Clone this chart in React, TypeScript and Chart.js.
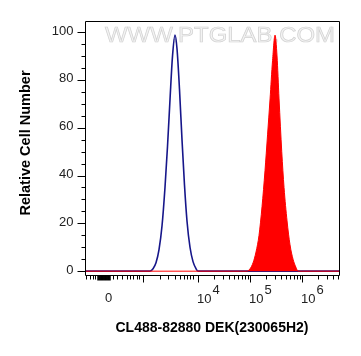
import React, { useEffect, useRef } from 'react';
import { Chart, registerables } from 'chart.js';

Chart.register(...registerables);

// x axis is in "display decades" (biexponential display units): 10^4 -> 4, 10^5 -> 5 ...
const X_MIN = 1.827;
const X_MAX = 6.73;
const Y_MIN = -1.6;
const Y_MAX = 104.6;

// Control (blue outline)
const blueX = [1.83, 3.0, 3.077, 3.135, 3.192, 3.25, 3.308, 3.365, 3.413, 3.462, 3.51, 3.558, 3.596, 3.644, 3.692, 3.74, 3.788, 3.846, 3.904, 3.962, 4.0, 4.1, 6.73];
const blueY = [0, 0, 0, 1, 3.5, 9, 19, 35, 52, 72, 90, 98.7, 93, 76, 55, 36, 21, 10, 4, 1, 0, 0, 0];

// Stained sample (red filled)
const redX = [1.83, 4.8, 4.937, 5.0, 5.058, 5.115, 5.173, 5.231, 5.288, 5.337, 5.385, 5.433, 5.481, 5.519, 5.558, 5.61, 5.654, 5.712, 5.769, 5.827, 5.885, 5.923, 6.0, 6.73];
const redY = [0, 0, 0, 1, 3.5, 8, 15, 27, 42, 57, 72, 88, 98.7, 90, 72, 50, 35, 21, 11, 5, 1.5, 0, 0, 0];

const yMajorTicks = [0, 20, 40, 60, 80, 100];
const yMinorTicks = [5, 10, 15, 25, 30, 35, 45, 50, 55, 65, 70, 75, 85, 90, 95];

const xLabelPos = [2.28, 4, 5, 6];
const xLabelBase = ['0', '10', '10', '10'];
const xLabelExp = ['', '4', '5', '6'];
const xMajorTicks = [2.94, 4, 5, 6];
const xLinearMinorTicks = [1.846, 1.923, 1.975, 2.025, 2.365, 2.442, 2.538, 2.635, 2.692, 2.75, 2.827, 2.865, 3.269, 3.423, 3.558, 3.654, 3.731, 3.788, 3.846, 3.904];
const xZeroBlockTicks = [2.077, 2.106, 2.135, 2.163, 2.192, 2.221, 2.25, 2.279, 2.308];
const decadeMultipliers = [2, 3, 4, 5, 6, 7, 8, 9];

const X_TITLE = 'CL488-82880 DEK(230065H2)';
const Y_TITLE = 'Relative Cell Number';
const WATERMARK = 'WWW.PTGLAB.COM';

function makePoints(xs: number[], ys: number[]) {
  return xs.map((x, i) => ({ x, y: ys[i] }));
}

const axesPlugin = {
  id: 'flowAxes',
  beforeDatasetsDraw(chart: any) {
    const { ctx, chartArea } = chart;
    ctx.save();
    ctx.font = '22px "Liberation Sans", Arial, sans-serif';
    ctx.textBaseline = 'middle';
    ctx.textAlign = 'left';
    const w = ctx.measureText(WATERMARK).width;
    const targetW = 230;
    const left = 105;
    const cy = chartArea.top + 15;
    ctx.translate(left, cy);
    ctx.scale(targetW / w, 1);
    ctx.fillStyle = '#f3f3f3';
    ctx.fillText(WATERMARK, 0, 0);
    ctx.strokeStyle = '#d2d2d2';
    ctx.lineWidth = 0.7;
    ctx.strokeText(WATERMARK, 0, 0);
    ctx.restore();
  },
  afterDraw(chart: any) {
    const { ctx, chartArea } = chart;
    const xs = chart.scales.x;
    const ys = chart.scales.y;
    const L = Math.round(chartArea.left) + 0.5;
    const R = Math.round(chartArea.right) - 0.5;
    const T = Math.round(chartArea.top) + 0.5;
    const B = Math.round(chartArea.bottom) + 0.5;
    ctx.save();
    ctx.strokeStyle = '#000';
    ctx.lineWidth = 1;
    ctx.beginPath();
    ctx.moveTo(L, T);
    ctx.lineTo(R, T);
    ctx.lineTo(R, B);
    ctx.lineTo(L, B);
    ctx.closePath();
    ctx.stroke();

    // y ticks
    ctx.beginPath();
    yMajorTicks.forEach((v) => {
      const p = Math.round(ys.getPixelForValue(v)) + 0.5;
      ctx.moveTo(L, p);
      ctx.lineTo(L - 8, p);
    });
    yMinorTicks.forEach((v) => {
      const p = Math.round(ys.getPixelForValue(v)) + 0.5;
      ctx.moveTo(L, p);
      ctx.lineTo(L - 4, p);
    });
    // x ticks
    xMajorTicks.forEach((v) => {
      const p = Math.round(xs.getPixelForValue(v)) + 0.5;
      ctx.moveTo(p, B);
      ctx.lineTo(p, B + 7);
    });
    const minor: number[] = [...xLinearMinorTicks];
    [4, 5, 6].forEach((d) => {
      decadeMultipliers.forEach((k) => {
        const u = d + Math.log10(k);
        if (u < X_MAX) minor.push(u);
      });
    });
    minor.forEach((v) => {
      const p = Math.round(xs.getPixelForValue(v)) + 0.5;
      ctx.moveTo(p, B);
      ctx.lineTo(p, B + 4);
    });
    ctx.stroke();
    ctx.lineWidth = 1.5;
    ctx.beginPath();
    xZeroBlockTicks.forEach((v) => {
      const p = xs.getPixelForValue(v);
      ctx.moveTo(p, B);
      ctx.lineTo(p, B + 5);
    });
    ctx.stroke();

    // y labels
    ctx.fillStyle = '#222';
    ctx.font = '13px "Liberation Sans", Arial, sans-serif';
    ctx.textAlign = 'right';
    ctx.textBaseline = 'middle';
    yMajorTicks.forEach((v) => {
      ctx.fillText(String(v), L - 12, ys.getPixelForValue(v) - 1);
    });

    // x labels with superscript exponents
    ctx.textBaseline = 'alphabetic';
    xLabelPos.forEach((u, i) => {
      const p = xs.getPixelForValue(u);
      ctx.font = '13px "Liberation Sans", Arial, sans-serif';
      if (!xLabelExp[i]) {
        ctx.textAlign = 'center';
        ctx.fillText(xLabelBase[i], p, 302);
      } else {
        ctx.textAlign = 'left';
        const bx = p - 1;
        ctx.fillText(xLabelBase[i], bx, 303);
        const bw = ctx.measureText(xLabelBase[i]).width;
        ctx.fillText(xLabelExp[i], bx + bw + 1, 294);
      }
    });

    // titles
    ctx.fillStyle = '#000';
    ctx.font = 'bold 14px "Liberation Sans", Arial, sans-serif';
    ctx.textAlign = 'center';
    ctx.textBaseline = 'middle';
    ctx.fillText(X_TITLE, 212, 328);
    ctx.save();
    ctx.translate(26, 143);
    ctx.rotate(-Math.PI / 2);
    ctx.font = 'bold 14.5px "Liberation Sans", Arial, sans-serif';
    ctx.fillText(Y_TITLE, 0, 0);
    ctx.restore();
    ctx.restore();
  },
};

export default function App() {
  const ref = useRef<HTMLCanvasElement | null>(null);
  useEffect(() => {
    document.body.style.margin = '0';
    const canvas = ref.current;
    if (!canvas) return;
    const chart = new Chart(canvas, {
      type: 'line',
      data: {
        datasets: [
          {
            data: makePoints(redX, redY),
            borderColor: '#ff0000',
            backgroundColor: '#ff0000',
            borderWidth: 1,
            fill: 'origin',
            pointRadius: 0,
            cubicInterpolationMode: 'monotone',
          },
          {
            data: makePoints(blueX, blueY),
            borderColor: '#16168a',
            backgroundColor: 'rgba(0,0,0,0)',
            borderWidth: 1.6,
            fill: false,
            pointRadius: 0,
            cubicInterpolationMode: 'monotone',
          },
        ],
      } as any,
      options: {
        responsive: false,
        animation: false,
        devicePixelRatio: 1,
        layout: { padding: { left: 85, right: 21, top: 21, bottom: 81 } },
        scales: {
          x: { type: 'linear', min: X_MIN, max: X_MAX, display: false },
          y: { type: 'linear', min: Y_MIN, max: Y_MAX, display: false },
        },
        plugins: { legend: { display: false }, tooltip: { enabled: false } },
      } as any,
      plugins: [axesPlugin],
    });
    return () => chart.destroy();
  }, []);
  return (
    <div style={{ width: 361, height: 356, background: '#fff' }}>
      <canvas ref={ref} width={361} height={356} style={{ display: 'block' }} />
    </div>
  );
}
